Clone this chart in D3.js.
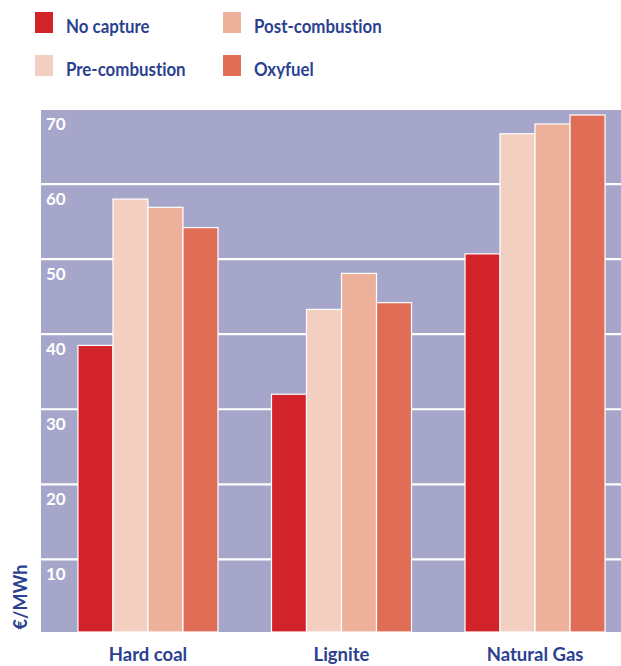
<!DOCTYPE html>
<html>
<head>
<meta charset="utf-8">
<script src="https://cdn.jsdelivr.net/npm/d3@7"></script>
<style>
  html, body { margin: 0; padding: 0; background: #fff; }
  svg { display: block; font-family: Lato, "Open Sans", "DejaVu Sans", sans-serif; font-variant-ligatures: none; }
</style>
</head>
<body>
<svg id="chart" width="621" height="666"></svg>
<script>
// Electricity generation cost by fuel and CO2 capture technology (€/MWh)
const categories = ["Hard coal", "Lignite", "Natural Gas"];
const seriesNames = ["No capture", "Pre-combustion", "Post-combustion", "Oxyfuel"];
const noCapture      = [38.5, 32.0, 50.7];
const preCombustion  = [58.0, 43.3, 66.7];
const postCombustion = [56.9, 48.1, 68.0];
const oxyfuel        = [54.2, 44.2, 69.2];
const tickValues = [10, 20, 30, 40, 50, 60, 70];
const colors = ["#d2232b", "#f3cfc1", "#edb09a", "#e06d55"];

const seriesValues = [noCapture, preCombustion, postCombustion, oxyfuel];
const data = categories.map((c, i) => ({
  category: c,
  values: seriesNames.map((s, j) => ({ series: s, value: seriesValues[j][i] }))
}));

const svg = d3.select("#chart");
const textBlue = "#2b4190";

const plot = { left: 41, right: 621, top: 110, bottom: 632 };

const y = d3.scaleLinear().domain([0, 70]).range([634.4, 109]);
const x0 = d3.scaleBand().domain(categories).range([41, 642])
  .paddingInner(0.2765).paddingOuter(0.191);
const x1 = d3.scaleBand().domain(seriesNames).range([0, x0.bandwidth()]);
const color = d3.scaleOrdinal().domain(seriesNames).range(colors);

// Plot background
svg.append("rect")
  .attr("x", plot.left).attr("y", plot.top)
  .attr("width", plot.right - plot.left).attr("height", plot.bottom - plot.top)
  .attr("fill", "#a6a6ca");

// Horizontal white gridlines
svg.append("g")
  .selectAll("line")
  .data(tickValues.filter(t => t < 70))
  .join("line")
  .attr("x1", plot.left).attr("x2", plot.right)
  .attr("y1", d => y(d)).attr("y2", d => y(d))
  .attr("stroke", "#ffffff").attr("stroke-width", 2.2);

// Tick labels sit just below each gridline
svg.append("g")
  .selectAll("text")
  .data(tickValues)
  .join("text")
  .attr("x", 46)
  .attr("y", d => y(d) + 21)
  .attr("fill", "#ffffff")
  .attr("font-weight", "bold")
  .attr("font-size", 17)
  .text(d => d);

// Bars
const groups = svg.append("g")
  .selectAll("g")
  .data(data)
  .join("g")
  .attr("transform", d => `translate(${x0(d.category)},0)`);

groups.selectAll("rect")
  .data(d => d.values)
  .join("rect")
  .attr("x", d => x1(d.series))
  .attr("y", d => y(d.value))
  .attr("width", x1.bandwidth())
  .attr("height", d => plot.bottom - y(d.value))
  .attr("fill", d => color(d.series))
  .attr("stroke", "#ffffff")
  .attr("stroke-width", 1.2);

// Category labels
svg.append("g")
  .selectAll("text")
  .data(categories)
  .join("text")
  .attr("x", d => x0(d) + x0.bandwidth() / 2)
  .attr("y", 661)
  .attr("text-anchor", "middle")
  .attr("fill", textBlue)
  .attr("font-weight", "bold")
  .attr("font-size", 18.5)
  .text(d => d);

// Y axis title
svg.append("text")
  .attr("transform", "translate(27,597) rotate(-90)")
  .attr("text-anchor", "middle")
  .attr("fill", textBlue)
  .attr("font-weight", "bold")
  .attr("font-size", 18)
  .text("€/MWh");

// Legend (two columns, two rows), labels slightly condensed
const legendPos = [
  { x: 35, y: 12 }, { x: 35, y: 55 },
  { x: 223, y: 12 }, { x: 223, y: 55 }
];
const legend = svg.append("g")
  .selectAll("g")
  .data(seriesNames)
  .join("g")
  .attr("transform", (d, i) => `translate(${legendPos[i].x},${legendPos[i].y})`);

legend.append("rect")
  .attr("width", 18).attr("height", 21)
  .attr("fill", d => color(d));

legend.append("text")
  .attr("transform", "translate(31,20.5) scale(0.865,1)")
  .attr("fill", textBlue)
  .attr("font-weight", "bold")
  .attr("font-size", 19.5)
  .text(d => d);
</script>
</body>
</html>
